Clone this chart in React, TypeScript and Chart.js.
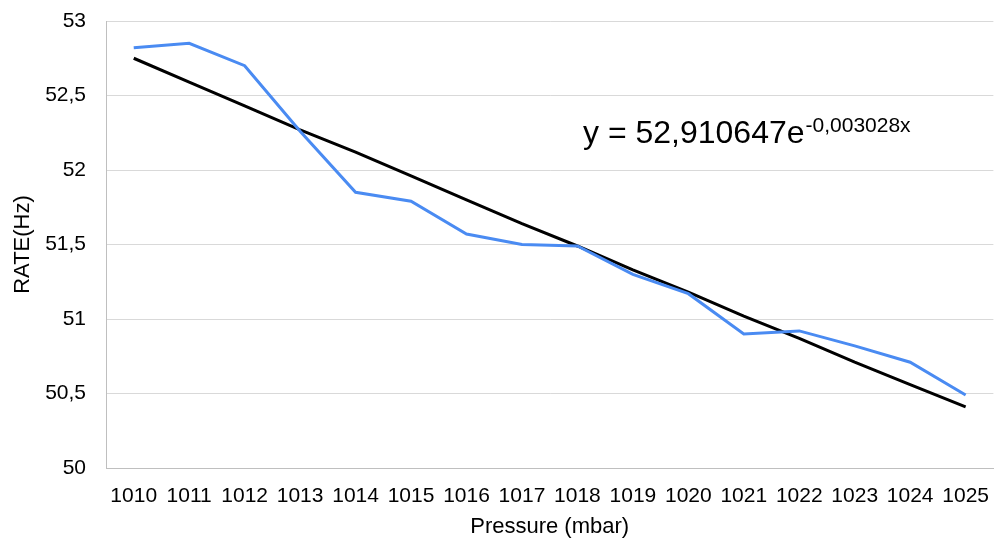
import React, { useEffect, useRef } from "react";
import { Chart, registerables } from "chart.js";

Chart.register(...registerables);

const pressureLabels = [
  "1010", "1011", "1012", "1013", "1014", "1015", "1016", "1017",
  "1018", "1019", "1020", "1021", "1022", "1023", "1024", "1025",
];

const rateValues = [
  52.82, 52.85, 52.70, 52.26, 51.85, 51.79, 51.57, 51.50,
  51.49, 51.30, 51.17, 50.90, 50.92, 50.82, 50.71, 50.49,
];

const trendValues = [
  52.75, 52.59, 52.43, 52.27, 52.12, 51.96, 51.80, 51.64,
  51.49, 51.33, 51.18, 51.02, 50.87, 50.71, 50.56, 50.41,
];

const yTicks = [50, 50.5, 51, 51.5, 52, 52.5, 53];

const equationMain = "y = 52,910647e";
const equationExp = "-0,003028x";

const FONT = "'Liberation Sans', Arial, sans-serif";

const equationPlugin = {
  id: "equationLabel",
  afterDraw(chart: any) {
    const ctx = chart.ctx;
    ctx.save();
    ctx.fillStyle = "#000";
    ctx.textBaseline = "alphabetic";
    ctx.textAlign = "left";
    ctx.font = `32px ${FONT}`;
    const x0 = 583;
    const y0 = 143;
    ctx.fillText(equationMain, x0, y0);
    const w = ctx.measureText(equationMain).width;
    ctx.font = `21px ${FONT}`;
    ctx.fillText(equationExp, x0 + w + 1, y0 - 11);
    ctx.restore();
  },
};

export default function App() {
  const canvasRef = useRef<HTMLCanvasElement | null>(null);

  useEffect(() => {
    if (!canvasRef.current) return;
    const chart = new Chart(canvasRef.current, {
      type: "line",
      data: {
        labels: pressureLabels,
        datasets: [
          {
            label: "RATE",
            data: rateValues,
            borderColor: "#4a8bf2",
            borderWidth: 3,
            pointRadius: 0,
            tension: 0,
            fill: false,
          },
          {
            label: "Trend",
            data: trendValues,
            borderColor: "#000000",
            borderWidth: 3,
            pointRadius: 0,
            tension: 0,
            fill: false,
          },
        ],
      },
      options: {
        responsive: false,
        animation: false,
        layout: { padding: { top: 21, right: 0, left: 0, bottom: 0 } },
        plugins: {
          legend: { display: false },
          tooltip: { enabled: false },
        },
        scales: {
          x: {
            offset: true,
            grid: { display: false, drawTicks: false },
            border: { display: true, color: "#bfbfbf", width: 1 },
            ticks: {
              color: "#000",
              font: { family: FONT, size: 21 },
              padding: 16,
              maxRotation: 0,
              autoSkip: false,
            },
            title: {
              display: true,
              text: "Pressure (mbar)",
              color: "#000",
              font: { family: FONT, size: 22 },
              padding: { top: 0, bottom: 3 },
            },
            afterFit(scale: any) {
              scale.height = 75;
            },
          },
          y: {
            min: 50,
            max: 53,
            afterBuildTicks(scale: any) {
              scale.ticks = yTicks.map((v) => ({ value: v }));
            },
            grid: { color: "#d9d9d9", lineWidth: 1, drawTicks: false },
            border: { display: true, color: "#bfbfbf", width: 1 },
            ticks: {
              color: "#000",
              font: { family: FONT, size: 21 },
              padding: 20,
              callback: (v: any) => String(v).replace(".", ","),
            },
            title: {
              display: true,
              text: "RATE(Hz)",
              color: "#000",
              font: { family: FONT, size: 22 },
              padding: { top: 10, bottom: 0 },
            },
            afterFit(scale: any) {
              scale.width = 106;
              scale.paddingTop = 0;
              scale.paddingBottom = 0;
            },
          },
        },
      },
      plugins: [equationPlugin],
    });
    return () => chart.destroy();
  }, []);

  return (
    <div style={{ position: "fixed", left: 0, top: 0, width: 1005, height: 543, background: "#fff" }}>
      <canvas ref={canvasRef} width={1005} height={543} style={{ display: "block" }} />
    </div>
  );
}
